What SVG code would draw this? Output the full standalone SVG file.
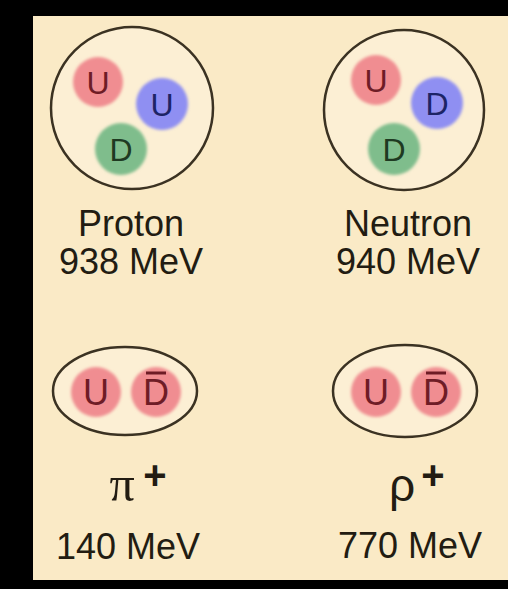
<svg xmlns="http://www.w3.org/2000/svg" width="508" height="589" viewBox="0 0 508 589">
<defs>
<filter id="soft" x="-20%" y="-20%" width="140%" height="140%"><feGaussianBlur stdDeviation="1.6"/></filter>
<style>
.bg{fill:#faeac6}
.shell{fill:#fcefd4;stroke:#3b3222;stroke-width:2.5}
.red{fill:#f08d91;filter:url(#soft)}
.blue{fill:#8f8ff2;filter:url(#soft)}
.green{fill:#7fbd8c;filter:url(#soft)}
.q{font-family:"Liberation Sans",Arial,sans-serif;font-size:32px;text-anchor:middle}
.qm{font-family:"Liberation Sans",Arial,sans-serif;font-size:36px;text-anchor:middle}
.qr{fill:#6e1c26}
.qb{fill:#1d2466}
.qg{fill:#1f3a22}
.bar{stroke:#6e1c26;stroke-width:3}
.lbl{font-family:"Liberation Sans",Arial,sans-serif;font-size:36px;fill:#221c12;text-anchor:middle}
.sym{font-family:"Liberation Serif","Times New Roman",serif;font-size:50px;fill:#221c12;text-anchor:middle}
.symr{font-family:"Liberation Sans",Arial,sans-serif;font-size:46px;fill:#221c12;text-anchor:middle}
.plus{font-family:"Liberation Sans",Arial,sans-serif;font-size:40px;font-weight:bold;fill:#221c12;text-anchor:middle}
</style>
</defs>
<rect x="0" y="0" width="508" height="589" fill="#000"/>
<rect class="bg" x="33" y="16" width="475" height="564"/>

<g id="proton">
<circle class="shell" cx="132" cy="108" r="81"/>
<circle class="red" cx="98" cy="82" r="25"/>
<circle class="blue" cx="162" cy="104" r="26"/>
<circle class="green" cx="121" cy="149" r="26"/>
<text class="q qr" x="98" y="93.5">U</text>
<text class="q qb" x="162" y="115.5">U</text>
<text class="q qg" x="121" y="160.5">D</text>
<text class="lbl" x="131" y="236">Proton</text>
<text class="lbl" x="131" y="274">938 MeV</text>
</g>

<g id="neutron">
<circle class="shell" cx="404" cy="110" r="80"/>
<circle class="red" cx="376" cy="80" r="25"/>
<circle class="blue" cx="437" cy="103" r="26"/>
<circle class="green" cx="394" cy="149" r="26"/>
<text class="q qr" x="376" y="91.5">U</text>
<text class="q qb" x="437" y="114.5">D</text>
<text class="q qg" x="394" y="160.5">D</text>
<text class="lbl" x="408" y="236">Neutron</text>
<text class="lbl" x="408" y="274">940 MeV</text>
</g>

<g id="pion">
<ellipse class="shell" cx="125" cy="391" rx="72" ry="44"/>
<circle class="red" cx="96" cy="392" r="25"/>
<circle class="red" cx="156" cy="392" r="25"/>
<text class="qm qr" x="96" y="405">U</text>
<text class="qm qr" x="156" y="405">D</text>
<line class="bar" x1="146" y1="373" x2="166" y2="373"/>
<text class="sym" x="122" y="501">π</text>
<text class="plus" x="155" y="489">+</text>
<text class="lbl" x="128" y="559">140 MeV</text>
</g>

<g id="rho">
<ellipse class="shell" cx="405" cy="391" rx="72" ry="46"/>
<circle class="red" cx="376" cy="392" r="25"/>
<circle class="red" cx="436" cy="392" r="25"/>
<text class="qm qr" x="376" y="405">U</text>
<text class="qm qr" x="436" y="405">D</text>
<line class="bar" x1="426" y1="373" x2="446" y2="373"/>
<text class="symr" x="402" y="501">ρ</text>
<text class="plus" x="433" y="489">+</text>
<text class="lbl" x="410" y="558">770 MeV</text>
</g>
</svg>
